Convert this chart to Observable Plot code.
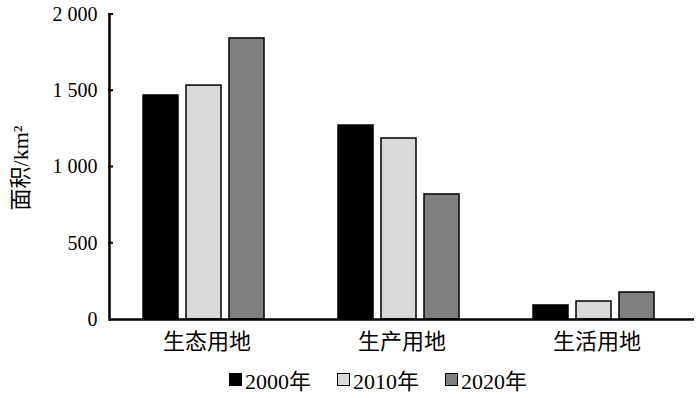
<!DOCTYPE html>
<html><head><meta charset="utf-8">
<script src="https://cdn.jsdelivr.net/npm/d3@7"></script>
<script src="https://cdn.jsdelivr.net/npm/@observablehq/plot@0.6"></script>
<style>
body{margin:0;background:#fff;font-family:"Liberation Serif","Noto Sans CJK SC",serif;}
#legend{display:flex;align-items:center;height:38px;padding-left:229px;font-size:22px;color:#000;}
.item{display:flex;align-items:center;width:108px;}
.sw{width:11px;height:11px;border:1.5px solid #000;margin-right:3px;}
</style></head>
<body><div id="chart"></div><div id="legend"></div>
<script>
const categories = ["生态用地", "生产用地", "生活用地"];
const years = ["2000年", "2010年", "2020年"];
const v2000 = [1469, 1272, 92];
const v2010 = [1534, 1187, 118];
const v2020 = [1843, 820, 177];
const colors = ["#000000", "#d9d9d9", "#808080"];
const yTicks = [0, 500, 1000, 1500, 2000];

const series = [v2000, v2010, v2020];
const data = [];
categories.forEach((c, i) => years.forEach((y, j) => data.push({cat: c, year: y, value: series[j][i]})));

const fmt = d => d3.format(",")(d).replace(/,/g, " ");

const plot = Plot.plot({
  width: 700, height: 360,
  marginLeft: 108, marginRight: 5, marginTop: 14, marginBottom: 41,
  style: {fontFamily: '"Liberation Serif","Noto Sans CJK SC",serif', fontSize: "20px", color: "#000", background: "#fff"},
  fx: {domain: categories, padding: 0, label: null},
  x: {domain: years, paddingInner: 0.18, paddingOuter: 0.8136, align: 0.46, axis: null},
  y: {domain: [0, 2000], axis: null},
  color: {domain: years, range: colors},
  marks: [
    Plot.barY(data, {fx: "cat", x: "year", y: "value", fill: "year", stroke: "#000", strokeWidth: 1.5}),
    Plot.axisY({ticks: yTicks, tickSize: 0, tickPadding: 12, tickFormat: fmt, label: null, fontSize: 20, fontFamily: '"Liberation Serif",serif'}),
    Plot.frame({anchor: "left", facetAnchor: "left", strokeWidth: 2.5}),
    Plot.ruleY([0], {strokeWidth: 2.5}),
    Plot.axisFx({anchor: "bottom", tickSize: 0, tickPadding: 14, label: null, fontSize: 22})
  ]
});
document.getElementById("chart").appendChild(plot);

// inward tick marks on the y axis, positioned by the plot's y scale
const ys = plot.scale("y");
const svg = d3.select(plot);
svg.append("g").attr("stroke", "#000").attr("stroke-width", 2)
  .selectAll("line").data(yTicks.filter(d => d > 0)).join("line")
  .attr("x1", 108).attr("x2", 113)
  .attr("y1", d => ys.apply(d)).attr("y2", d => ys.apply(d));

// y-axis title
svg.append("text")
  .attr("transform", "translate(28,168) rotate(-90)")
  .attr("text-anchor", "middle")
  .attr("font-size", 22)
  .attr("font-family", '"Liberation Serif","Noto Sans CJK SC",serif')
  .attr("fill", "#000")
  .text("面积/km²");

const legend = d3.select("#legend");
years.forEach((y, i) => {
  const it = legend.append("div").attr("class", "item");
  it.append("div").attr("class", "sw").style("background", colors[i]);
  it.append("span").text(y);
});
</script></body></html>
